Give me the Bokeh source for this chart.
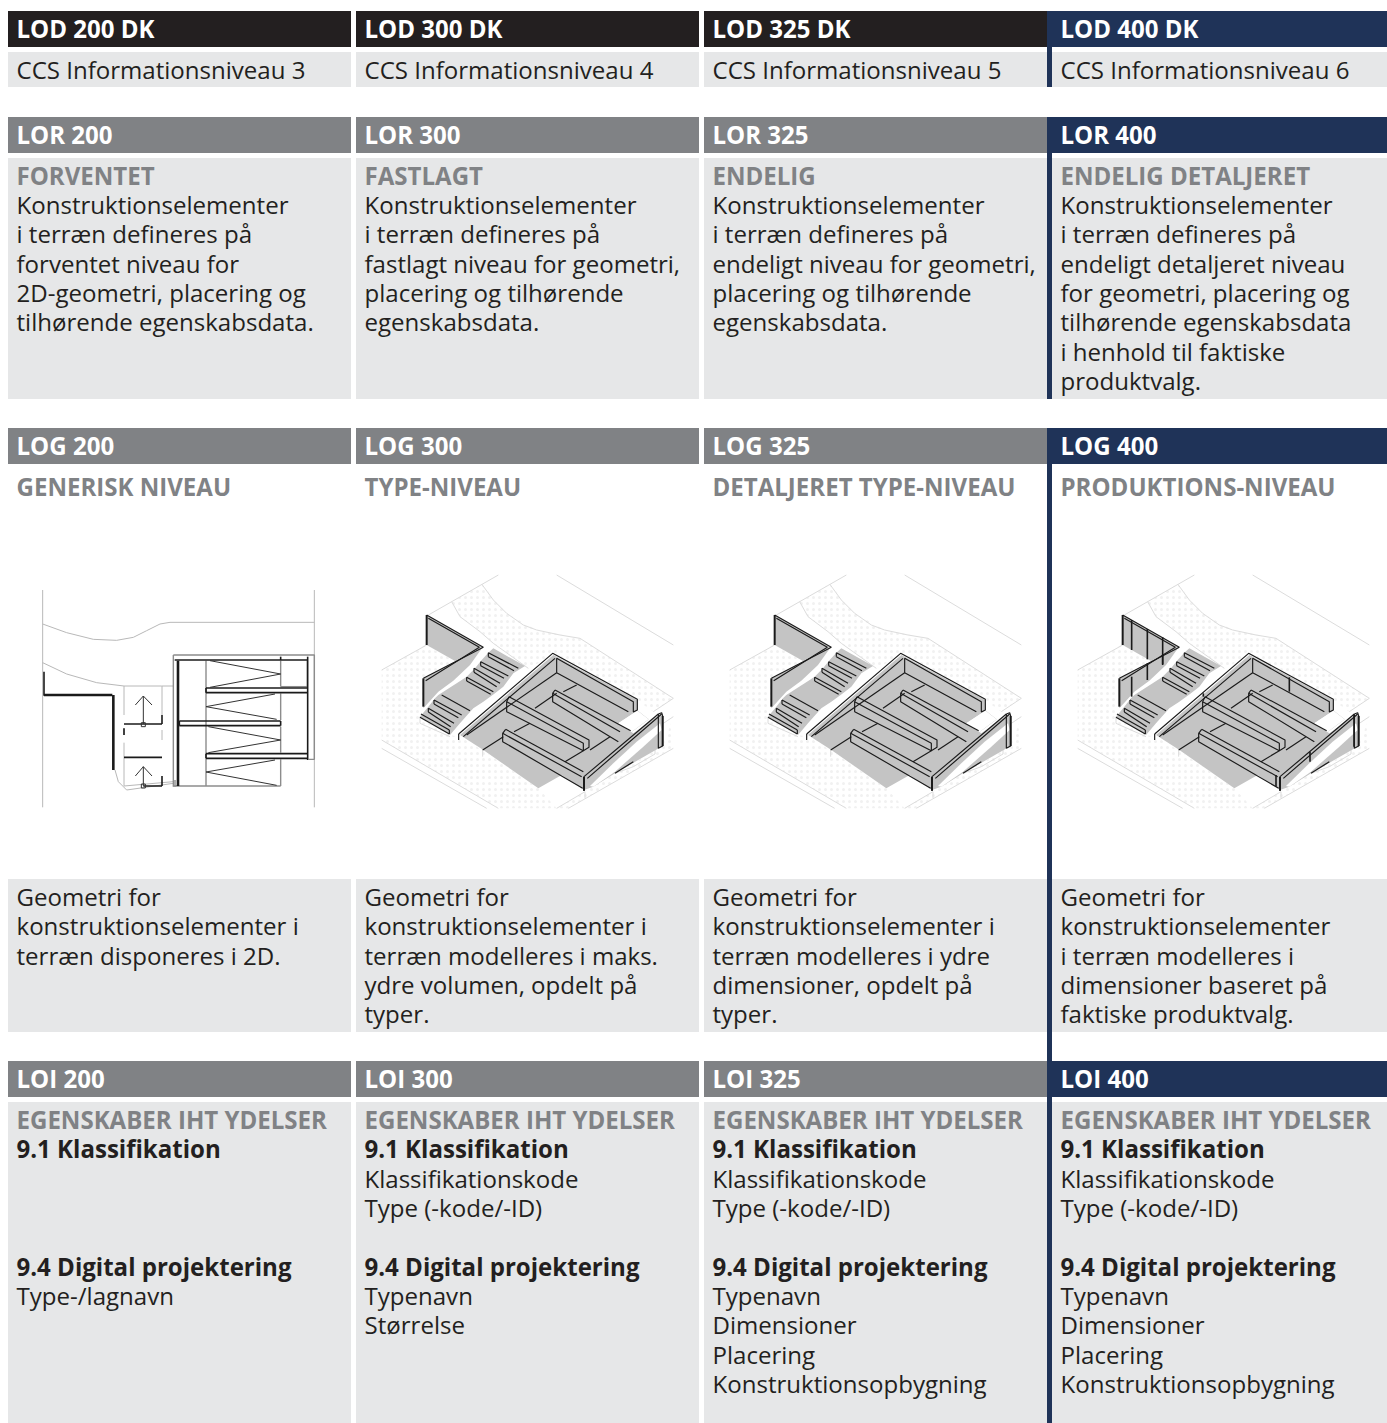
from bokeh.plotting import figure
from bokeh.models import Range1d
from bokeh.core.properties import value
from bokeh.embed import file_html
from bokeh.resources import INLINE

BLACK = "#231f20"; GREY = "#808285"; NAVY = "#1f3358"; CELL = "#e6e7e8"; MID = "#c4c4c4"; LIGHT = "#dcdcdc"

COL_X0 = [8, 356, 704, 1052]
COL_X1 = [351, 699, 1047, 1387]
TEXT_X = [17, 365, 713, 1061]

# (top, bottom) of bands
HEAD_ROWS = [(11, 47), (117, 153), (428, 464), (1061, 1097)]
CELL_ROWS = [(52, 87), (158, 399), (879, 1032), (1102, 1423)]
BAR_SPANS = [(11, 87), (117, 399), (428, 1423)]

HEAD_BASE = [38, 144, 455, 1088]
HEAD_TEXT = [
    ["LOD 200 DK", "LOD 300 DK", "LOD 325 DK", "LOD 400 DK"],
    ["LOR 200", "LOR 300", "LOR 325", "LOR 400"],
    ["LOG 200", "LOG 300", "LOG 325", "LOG 400"],
    ["LOI 200", "LOI 300", "LOI 325", "LOI 400"],
]
CCS = ["CCS Informationsniveau 3", "CCS Informationsniveau 4", "CCS Informationsniveau 5", "CCS Informationsniveau 6"]
LOR_SUB = ["FORVENTET", "FASTLAGT", "ENDELIG", "ENDELIG DETALJERET"]
LOR_BODY = [
    ["Konstruktionselementer", "i terræn defineres på", "forventet niveau for", "2D-geometri, placering og", "tilhørende egenskabsdata."],
    ["Konstruktionselementer", "i terræn defineres på", "fastlagt niveau for geometri,", "placering og tilhørende", "egenskabsdata."],
    ["Konstruktionselementer", "i terræn defineres på", "endeligt niveau for geometri,", "placering og tilhørende", "egenskabsdata."],
    ["Konstruktionselementer", "i terræn defineres på", "endeligt detaljeret niveau", "for geometri, placering og", "tilhørende egenskabsdata", "i henhold til faktiske", "produktvalg."],
]
LOG_SUB = ["GENERISK NIVEAU", "TYPE-NIVEAU", "DETALJERET TYPE-NIVEAU", "PRODUKTIONS-NIVEAU"]
GEO_BODY = [
    ["Geometri for", "konstruktionselementer i", "terræn disponeres i 2D."],
    ["Geometri for", "konstruktionselementer i", "terræn modelleres i maks.", "ydre volumen, opdelt på", "typer."],
    ["Geometri for", "konstruktionselementer i", "terræn modelleres i ydre", "dimensioner, opdelt på", "typer."],
    ["Geometri for", "konstruktionselementer", "i terræn modelleres i", "dimensioner baseret på", "faktiske produktvalg."],
]
LOI_SUB = "EGENSKABER IHT YDELSER"
LOI_H1 = "9.1 Klassifikation"
LOI_H2 = "9.4 Digital projektering"
LOI_A = [[], ["Klassifikationskode", "Type (-kode/-ID)"], ["Klassifikationskode", "Type (-kode/-ID)"], ["Klassifikationskode", "Type (-kode/-ID)"]]
LOI_B = [["Type-/lagnavn"], ["Typenavn", "Størrelse"],
         ["Typenavn", "Dimensioner", "Placering", "Konstruktionsopbygning"],
         ["Typenavn", "Dimensioner", "Placering", "Konstruktionsopbygning"]]

# --- Plan drawing (column 1), in zoom-space units (3 per px) relative to (0,560)
PLAN_LIGHT = [
    [(128,90),(128,742)], [(943,90),(943,742)],
    [(128,192),(200,218),(280,238),(350,241),(400,232),(440,212),(480,192),(510,187),(943,187)],
    [(128,308),(200,342),(290,368),(372,378)],
    [(372,378),(485,378)], [(485,378),(520,378)],
    [(372,378),(372,465)], [(372,505),(372,525)], [(372,548),(372,678)], [(486,378),(486,465)], [(486,510),(486,540)],
    [(372,678),(520,665)], [(345,630),(355,665),(380,690),(520,670)],
]
PLAN_FRAME = [
    [(520,285),(943,285),(943,598),(926,598)], [(520,285),(520,680)], [(618,302),(618,678)], [(520,678),(842,678)],
    [(842,302),(842,380)], [(842,380),(922,380)], [(922,302),(922,380)], [(842,400),(842,480)], [(842,500),(842,578)], [(842,598),(842,678)],
    [(525,680),(525,660)],
]
PLAN_DARK = [
    [(132,335),(132,407)],
    [(524,300),(922,300)], [(842,290),(842,300)], [(923,290),(923,600)],
    [(618,384),(922,384)], [(618,398),(922,398)], [(618,384),(618,398)],
    [(538,483),(842,483)], [(538,497),(842,497)], [(842,483),(842,497)], [(538,483),(538,497)],
    [(618,581),(922,581)], [(618,595),(922,595)], [(618,581),(618,595)],
    [(372,492),(486,492)], [(486,465),(486,492)], [(372,592),(486,592)],
    [(486,648),(486,678)], [(372,505),(372,525)], [(430,678),(486,678)],
]
PLAN_THIN = [
    [(630,302),(842,342),(630,382)], [(825,402),(618,440),(830,478)], [(625,500),(842,540),(625,578)], [(825,600),(618,636),(830,676)],
    [(430,408),(430,492)], [(406,435),(430,408),(456,435)],
    [(430,620),(430,678)], [(406,648),(430,620),(456,648)],
    [(424,488),(436,488),(436,500),(424,500),(424,488)], [(424,672),(436,672),(436,684),(424,684),(424,672)],
]
PLAN_THICK = [[(132,405),(337,405)], [(340,405),(340,630)], [(534,302),(534,678)]]

# --- Isometric drawing (columns 2-4), in zoom-space units relative to (360,560)
ISO_SPECKLE = [
    [(65,330),(195,255),(285,303),(190,355),(190,440),(180,470),(270,525),(300,530),(370,572),(535,685),(590,745),(415,745),(65,540)],
    [(275,125),(365,72),(440,160),(530,210),(660,235),(940,415),(880,455),(830,420),(585,285),(505,325),(400,250),(360,215),(300,170)],
    [(672,695),(765,640),(880,575),(908,560),(940,470),(940,565),(625,745),(590,745)],
]
ISO_GREY = [
    [(200,165),(368,262),(285,303),(200,255)],
    [(190,355),(368,262),(330,315),(280,362),(235,395),(190,445)],
    [(400,265),(495,318),(460,340),(430,380),(405,400),(370,425),(340,445),(300,490),(270,525),(180,470),(205,440),(225,415),(235,405),(290,370),(320,350),(345,325),(365,300),(385,278)],
    [(300,525),(580,285),(832,420),(832,452),(775,490),(820,520),(890,470),(905,460),(908,558),(765,640),(700,680),(672,690),(605,645),(535,685),(370,570)],
]
ISO_WHITE = [
    [(775,490),(832,452),(865,478),(815,515)],
    [(690,678),(760,610),(830,545),(900,490),(905,510),(850,560),(765,635),(700,680)],
]
ISO_LIGHT = [
    [(65,330),(200,255)], [(65,540),(415,745)], [(65,565),(380,745)], [(205,165),(415,45)], [(590,45),(940,255)],
    [(365,72),(400,120),(440,160),(490,195),(530,210),(600,225),(660,235),(940,415)],
    [(275,125),(300,170),(360,215),(400,250),(505,325)],
    [(590,745),(675,695),(675,715)], [(625,745),(940,565)], [(910,490),(940,470)], [(880,455),(940,415)],
    [(820,620),(885,582),(885,560)], [(765,640),(820,620)], [(180,470),(180,490),(270,530)], [(832,452),(865,478),(815,515)],
    [(368,570),(368,590)],
]
ISO_DARK = [
    [(200,165),(370,262),(190,355)], [(205,175),(358,262),(197,362)],
    [(385,278),(475,325)], [(385,290),(462,332)], [(385,278),(385,290)],
    [(362,305),(445,348)], [(362,317),(432,355)], [(362,305),(362,317)],
    [(342,325),(420,370)], [(342,337),(410,380)], [(342,325),(342,337)],
    [(320,352),(400,395)], [(320,363),(392,403)], [(320,352),(320,363)],
    [(245,405),(330,452)],
    [(222,420),(305,465)], [(222,432),(295,473)], [(222,420),(222,432)],
    [(205,445),(282,490)], [(205,456),(272,500)], [(205,445),(205,456)],
    [(183,462),(268,510)], [(180,472),(268,522)], [(268,510),(268,522)],
    [(296,522),(578,280),(832,418),(832,450),(820,456),(820,425),(590,295)],
    [(310,530),(585,295)], [(296,522),(296,540)],
    [(590,295),(590,338),(805,455)], [(590,338),(320,525)],
    [(447,410),(687,540),(687,562),(670,572),(670,550),(440,425),(447,410)], [(440,425),(440,455),(670,572)],
    [(585,390),(812,512)], [(578,400),(780,515)], [(578,400),(578,425),(775,545)], [(585,390),(578,400)],
    [(437,508),(670,635)], [(428,520),(665,650)], [(428,520),(428,545),(668,685)], [(437,508),(428,520)],
    [(672,650),(895,462)], [(682,655),(905,462)], [(672,650),(672,692)], [(895,462),(905,458),(908,468),(908,558),(895,565),(895,462)],
    [(368,570),(430,530)], [(462,515),(510,490)], [(525,445),(590,400)], [(610,395),(650,375)], [(615,605),(670,572)], [(690,570),(750,530)],
    [(765,640),(820,605)],
]
ISO_THICK = [[(200,165),(200,255)], [(190,355),(190,440)], [(672,650),(672,692)], [(908,468),(908,558)]]
# additional panel joints only found in the LOD 400 drawing
ISO_JOINTS = [
    [(227,180),(227,270)], [(274,207),(274,298)], [(320,232),(320,312)],
    [(227,350),(227,410)], [(274,310),(274,360)], [(320,285),(320,315)],
    [(700,352),(700,395)], [(660,645),(660,680)], [(762,575),(762,605)], [(894,465),(894,560)], [(442,400),(442,410)],
]

def pts(paths, ox, oy):
    xs = [[ox + a / 3 for a, _ in path] for path in paths]
    ys = [[oy + b / 3 for _, b in path] for path in paths]
    return xs, ys

p = figure(width=1387, height=1423, x_range=Range1d(0.5, 1387.5), y_range=Range1d(1423.5, 0.5),
           output_backend="svg", toolbar_location=None, min_border=0, outline_line_color=None,
           background_fill_color="white", border_fill_color="white")
p.xaxis.visible = False; p.yaxis.visible = False; p.grid.visible = False

def band(rows, col, color):
    for t, b in rows:
        p.quad(left=COL_X0[col], right=COL_X1[col], top=t, bottom=b, fill_color=color, line_color=None)

for c in range(4):
    band(CELL_ROWS, c, CELL)
for c in range(3):
    band(HEAD_ROWS[:1], c, BLACK)
    band(HEAD_ROWS[1:], c, GREY)
band(HEAD_ROWS, 3, NAVY)
for t, b in BAR_SPANS:
    p.quad(left=1047, right=1052, top=t, bottom=b, fill_color=NAVY, line_color=None)

FONT = value("Open Sans")
BODY = "24.05px"
PITCH = 29.3
DY = -9.5
DX = -0.5

def txt(x, y, s, color=BLACK, weight="normal", size=BODY):
    p.text(x=[x + DX], y=[y + DY], text=[s], text_color=color, text_font=FONT, text_font_size=size,
           text_font_style=weight, text_baseline="alphabetic", text_align="left")

for c in range(4):
    x = TEXT_X[c]
    for r in range(4):
        txt(x, HEAD_BASE[r], HEAD_TEXT[r][c], "white", "bold")
    txt(x, 79, CCS[c])
    txt(x, 185, LOR_SUB[c], GREY, "bold")
    for i, s in enumerate(LOR_BODY[c]):
        txt(x, 214 + PITCH * i, s)
    txt(x, 496, LOG_SUB[c], GREY, "bold")
    for i, s in enumerate(GEO_BODY[c]):
        txt(x, 906 + PITCH * i, s)
    txt(x, 1129, LOI_SUB, GREY, "bold")
    txt(x, 1158, LOI_H1, BLACK, "bold")
    for i, s in enumerate(LOI_A[c]):
        txt(x, 1188 + PITCH * i, s)
    txt(x, 1276, LOI_H2, BLACK, "bold")
    for i, s in enumerate(LOI_B[c]):
        txt(x, 1305 + PITCH * i, s)

# plan
for paths, color, w in [(PLAN_LIGHT, "#b8b8b8", 1), (PLAN_FRAME, "#8c8c8c", 1.4), (PLAN_THICK, "#1a1a1a", 2.6), (PLAN_DARK, "#1a1a1a", 1.6), (PLAN_THIN, "#333333", 1)]:
    xs, ys = pts(paths, 0, 560)
    p.multi_line(xs, ys, line_color=color, line_width=w)

# isometric
for col, ox in enumerate([360, 708, 1056]):
    xs, ys = pts(ISO_SPECKLE, ox, 560)
    p.patches(xs, ys, fill_color="white", line_color=None, hatch_pattern="dot", hatch_color="#f1f1f1", hatch_scale=6, hatch_weight=1)
    xs, ys = pts(ISO_LIGHT, ox, 560)
    p.multi_line(xs, ys, line_color=LIGHT, line_width=1)
    xs, ys = pts(ISO_GREY, ox, 560)
    p.patches(xs, ys, fill_color=MID, line_color=None)
    xs, ys = pts(ISO_WHITE, ox, 560)
    p.patches(xs, ys, fill_color="white", line_color=None)
    xs, ys = pts(ISO_DARK, ox, 560)
    p.multi_line(xs, ys, line_color="#1a1a1a", line_width=1.15)
    xs, ys = pts(ISO_THICK, ox, 560)
    p.multi_line(xs, ys, line_color="#1a1a1a", line_width=2)
    if col == 2:
        xs, ys = pts(ISO_JOINTS, ox, 560)
        p.multi_line(xs, ys, line_color="#1a1a1a", line_width=1.6)

open("out.html", "w").write(file_html(p, INLINE))
